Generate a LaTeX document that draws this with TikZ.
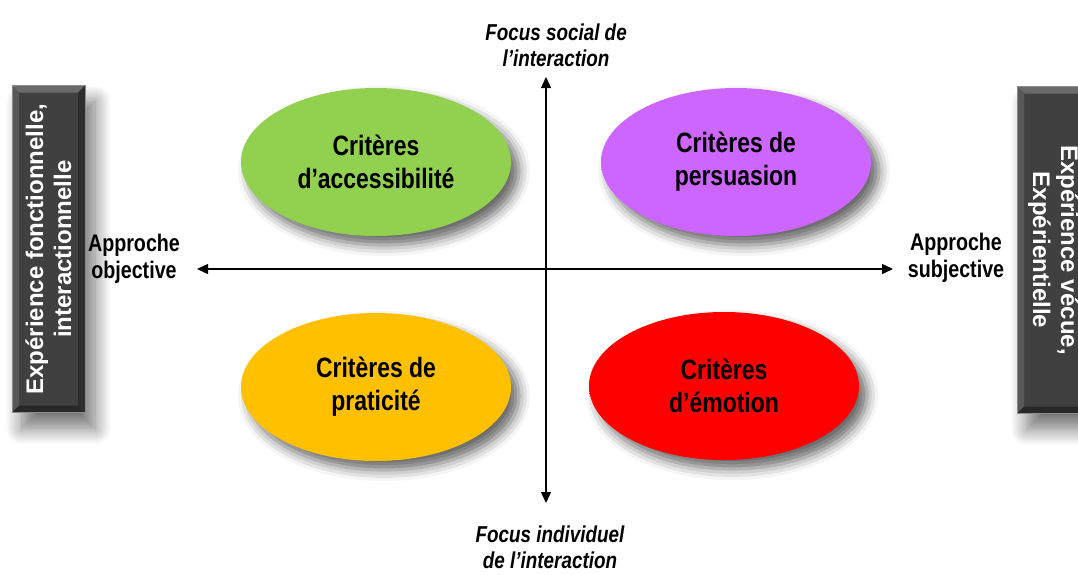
\documentclass[tikz,border=0pt]{standalone}
\usepackage{fontspec}
\setmainfont{Liberation Sans}
\newfontfamily\narrowf{Liberation Sans}[FakeStretch=0.82]
\usetikzlibrary{shapes.geometric,shadows.blur,arrows.meta,calc}
\definecolor{gIn}{HTML}{92D050}\definecolor{gOut}{HTML}{D8F270}
\definecolor{pIn}{HTML}{CC66FF}\definecolor{pOut}{HTML}{FF8CF0}
\definecolor{oIn}{HTML}{FFC000}\definecolor{oOut}{HTML}{FFFF00}
\definecolor{rIn}{HTML}{FF0000}\definecolor{rOut}{HTML}{F40000}
\definecolor{barC}{HTML}{404040}
\definecolor{bvTop}{HTML}{6A6A6A}\definecolor{bvLeft}{HTML}{585858}
\definecolor{bvRight}{HTML}{2E2E2E}\definecolor{bvBot}{HTML}{282828}
\definecolor{bvEdge}{HTML}{8C8C8C}
\pgfdeclareradialshading{glowg}{\pgfpoint{0bp}{0bp}}{color(0bp)=(gIn); color(40bp)=(gIn); color(50bp)=(gOut)}
\pgfdeclareradialshading{glowp}{\pgfpoint{0bp}{0bp}}{color(0bp)=(pIn); color(40bp)=(pIn); color(50bp)=(pOut)}
\pgfdeclareradialshading{glowo}{\pgfpoint{0bp}{0bp}}{color(0bp)=(oIn); color(40bp)=(oIn); color(50bp)=(oOut)}
\pgfdeclareradialshading{glowr}{\pgfpoint{0bp}{0bp}}{color(0bp)=(rIn); color(45bp)=(rIn); color(50bp)=(rOut)}
\tikzset{
  crit/.style={ellipse, minimum width=270pt, minimum height=148pt, inner sep=0pt,
    shade, font=\narrowf\bfseries\fontsize{28}{33}\selectfont, align=center,
    blur shadow={shadow xshift=8pt, shadow yshift=-9pt, shadow blur radius=11pt, shadow opacity=60}},
  axlab/.style={font=\narrowf\bfseries\fontsize{24}{27}\selectfont, align=center, inner sep=0pt},
  focuslab/.style={font=\narrowf\bfseries\itshape\fontsize{23}{26}\selectfont, align=center, inner sep=0pt},
  axisline/.style={line width=1.4pt, {Triangle[length=11pt,width=10pt]}-{Triangle[length=11pt,width=10pt]}},
  bar/.style={rectangle, fill=barC, draw=bvEdge, line width=0.8pt,
    minimum width=73pt, minimum height=327pt, inner sep=0pt,
    blur shadow={shadow xshift=10pt, shadow yshift=-16pt, shadow blur radius=16pt, shadow blur steps=16, shadow opacity=55},
    path picture={
      \path (path picture bounding box.south west) coordinate (psw)
            (path picture bounding box.north east) coordinate (pne);
      \fill[bvTop] (psw|-pne) -- (pne) -- ($(pne)+(-7pt,-7pt)$) -- ($(psw|-pne)+(7pt,-7pt)$) -- cycle;
      \fill[bvLeft] (psw) -- (psw|-pne) -- ($(psw|-pne)+(7pt,-7pt)$) -- ($(psw)+(7pt,7pt)$) -- cycle;
      \fill[bvRight] (pne) -- (pne|-psw) -- ($(pne|-psw)+(-7pt,7pt)$) -- ($(pne)+(-7pt,-7pt)$) -- cycle;
      \fill[bvBot] (psw) -- (pne|-psw) -- ($(pne|-psw)+(-7pt,7pt)$) -- ($(psw)+(7pt,7pt)$) -- cycle;
    }},
  bartext/.style={text=white, font=\bfseries\fontsize{24}{28}\selectfont, align=center, inner sep=0pt}
}
\begin{document}
\begin{tikzpicture}[x=1pt,y=1pt]
\useasboundingbox (0,-574) rectangle (1078,0);
\clip (0,-574) rectangle (1078,0);
% side bars
\node[bar] (lb) at (48.5,-249) {};
\node[bartext, rotate=90] (lbt) at (lb.center) {Expérience fonctionnelle,\\interactionnelle};
\node[bar] (rb) at (1053.5,-250) {};
\node[bartext, rotate=-90] (rbt) at (rb.center) {Expérience vécue,\\Expérientielle};
% ellipses
\node[crit, shading=glowg] (acc) at (376,-162) {Critères\\d’accessibilité};
\node[crit, shading=glowp] (pers) at (736,-162) {Critères de\\persuasion};
\node[crit, shading=glowo] (prat) at (376,-387) {Critères de\\praticité};
\node[crit, shading=glowr] (emo) at (724,-386) {Critères\\d’émotion};
% axes
\coordinate (axL) at (197,-269);
\coordinate (axR) at (893,-269);
\coordinate (axT) at (546,-77);
\coordinate (axB) at (546,-503);
\draw[axisline] (axL) -- (axR);
\draw[axisline] (axB) -- (axT);
% axis labels
\node[axlab] (obj) at (134,-259) {Approche\\objective};
\node[axlab] (subj) at (956,-258) {Approche\\subjective};
\node[focuslab] (soc) at (556,-45) {Focus social de\\l’interaction};
\node[focuslab] (ind) at (550,-547) {Focus individuel\\de l’interaction};
\end{tikzpicture}
\end{document}
